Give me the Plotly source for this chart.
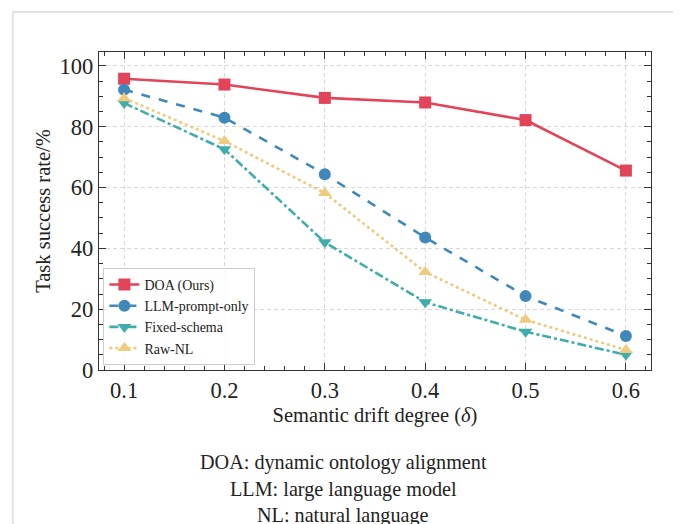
import plotly.graph_objects as go

drift = [0.1, 0.2, 0.3, 0.4, 0.5, 0.6]
doa = [95.8, 93.9, 89.5, 88.0, 82.2, 65.6]
llm_prompt = [92.2, 83.0, 64.4, 43.6, 24.3, 11.2]
fixed_schema = [87.8, 72.6, 42.0, 22.3, 12.6, 5.0]
raw_nl = [89.4, 75.3, 58.2, 32.2, 16.5, 6.6]

x_ticks = [0.1, 0.2, 0.3, 0.4, 0.5, 0.6]
x_tick_text = ["0.1", "0.2", "0.3", "0.4", "0.5", "0.6"]
y_ticks = [0, 20, 40, 60, 80, 100]

series = [
    ("DOA (Ours)", doa, "#E2445A", "solid", "square", 12),
    ("LLM-prompt-only", llm_prompt, "#4088B9", "dash", "circle", 12),
    ("Fixed-schema", fixed_schema, "#3FAEAA", "dashdot", "triangle-down", 12),
    ("Raw-NL", raw_nl, "#EECB7E", "dot", "triangle-up", 12),
]

SERIF = "Liberation Serif, Times New Roman, serif"

fig = go.Figure()
for name, ys, color, dash, sym, size in series:
    fig.add_trace(go.Scatter(
        x=drift, y=ys, name=name, mode="lines+markers",
        line=dict(color=color, width=2.6, dash=dash),
        marker=dict(symbol=sym, size=size, color=color),
    ))

axis_common = dict(
    showline=True, linecolor="#333333", linewidth=1.3, mirror="allticks",
    ticks="inside", ticklen=7, tickwidth=1.2, tickcolor="#333333",
    showgrid=True, gridcolor="#d9d9d9", griddash="4px,3px", gridwidth=1,
    zeroline=False,
    tickfont=dict(family=SERIF, size=22.5, color="#222222"),
)

fig.update_xaxes(
    range=[0.075, 0.625], tickvals=x_ticks, ticktext=x_tick_text,
    minor=dict(dtick=0.02, tick0=0.0, ticks="inside", ticklen=4, tickcolor="#333333", showgrid=False),
    title=dict(text="Semantic drift degree (<i>δ</i>)", font=dict(family=SERIF, size=20.5, color="#222222"), standoff=5),
    **axis_common,
)
fig.update_yaxes(
    range=[0, 104.6], tickvals=y_ticks,
    minor=dict(dtick=5, tick0=0, ticks="inside", ticklen=4, tickcolor="#333333", showgrid=False),
    title=dict(text="Task success rate/%", font=dict(family=SERIF, size=20.5, color="#222222"), standoff=3),
    **axis_common,
)

fig.add_shape(type="rect", xref="paper", yref="paper",
              x0=-0.156, x1=1.045, y0=-0.6, y1=1.126,
              line=dict(color="#d4d4d4", width=1.2), layer="below")

captions = ["DOA: dynamic ontology alignment", "LLM: large language model", "NL: natural language"]
cap_y = [462, 489, 515]
for txt, py in zip(captions, cap_y):
    fig.add_annotation(text=txt, xref="paper", yref="paper",
                       x=(343 - 99) / 552, y=(370 - py) / 318,
                       showarrow=False, xanchor="center", yanchor="middle",
                       font=dict(family=SERIF, size=20.2, color="#222222"))

# page body has an 8px margin, so the figure is sized to fit the window
fig.update_layout(
    width=673, height=516,
    margin=dict(l=91, r=30, t=44, b=154),
    paper_bgcolor="white", plot_bgcolor="white",
    showlegend=True,
    legend=dict(x=0.008, y=0.016, xanchor="left", yanchor="bottom",
                bgcolor="rgba(255,255,255,0.85)", bordercolor="#cccccc", borderwidth=1,
                font=dict(family=SERIF, size=14, color="#222222"),
                tracegroupgap=0, itemwidth=30),
)

fig.write_html("out.html")
